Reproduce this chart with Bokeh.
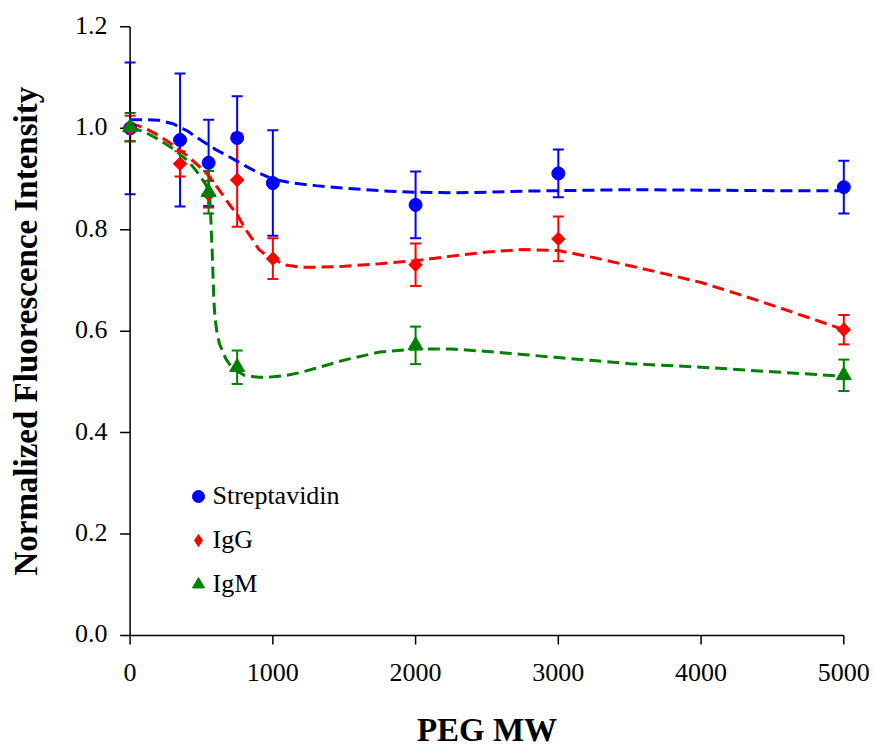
import numpy as np
from bokeh.plotting import figure
from bokeh.core.properties import value
from bokeh.models import (ColumnDataSource, Whisker, TeeHead, Legend, LegendItem,
                          Range1d, Label)
from bokeh.embed import file_html
from bokeh.resources import INLINE

# ---------------- data ----------------
peg_mw = [0, 350, 550, 750, 1000, 2000, 3000, 5000]
strep_mean = [1.000, 0.977, 0.932, 0.981, 0.892, 0.849, 0.911, 0.884]
strep_err = [0.130, 0.131, 0.085, 0.082, 0.104, 0.066, 0.047, 0.052]

igg_mean = [1.000, 0.930, 0.870, 0.898, 0.743, 0.731, 0.782, 0.603]
igg_err = [0.025, 0.025, 0.026, 0.092, 0.040, 0.042, 0.044, 0.029]

igm_mw = [0, 550, 750, 2000, 5000]
igm_mean = [1.002, 0.874, 0.529, 0.572, 0.513]
igm_err = [0.028, 0.042, 0.033, 0.037, 0.031]

# dashed fitted curves
strep_fit_x = [0, 100, 200, 300, 400, 500, 600, 700, 800, 900, 1000, 1100, 1200,
               1300, 1500, 1750, 2000, 2250, 2500, 2750, 3000, 3500, 4000, 4500, 5000]
strep_fit_y = [1.017, 1.017, 1.016, 1.009, 0.995, 0.976, 0.958, 0.943, 0.927, 0.912,
               0.900, 0.894, 0.890, 0.887, 0.882, 0.877, 0.874, 0.873, 0.874, 0.876,
               0.877, 0.879, 0.878, 0.877, 0.877]

igg_fit_x = [0, 100, 200, 300, 400, 500, 550, 600, 650, 700, 750, 800, 850, 900, 950,
             1000, 1100, 1200, 1300, 1500, 1750, 2000, 2250, 2500, 2750, 3000, 3250,
             3500, 3750, 4000, 4250, 4500, 4750, 5000]
igg_fit_y = [1.010, 1.001, 0.986, 0.967, 0.946, 0.921, 0.907, 0.888, 0.868, 0.848,
             0.830, 0.805, 0.784, 0.762, 0.750, 0.742, 0.730, 0.726, 0.726, 0.728,
             0.733, 0.739, 0.748, 0.756, 0.761, 0.759, 0.745, 0.729, 0.713, 0.696,
             0.674, 0.651, 0.627, 0.603]

igm_fit_x = [0, 100, 200, 300, 400, 450, 500, 530, 550, 560, 565, 570, 575, 580, 587,
             595, 610, 625, 645, 670, 703, 750, 800, 900, 1000, 1100, 1200, 1300, 1500,
             1750, 2000, 2250, 2500, 2750, 3000, 3250, 3500, 4000, 4500, 5000]
igm_fit_y = [1.002, 0.993, 0.978, 0.960, 0.937, 0.921, 0.902, 0.889, 0.877, 0.855,
             0.825, 0.790, 0.759, 0.715, 0.660, 0.625, 0.595, 0.576, 0.562, 0.546,
             0.532, 0.521, 0.513, 0.509, 0.510, 0.513, 0.519, 0.527, 0.543, 0.559,
             0.565, 0.565, 0.560, 0.554, 0.548, 0.542, 0.536, 0.529, 0.520, 0.511]

series_names = ["Streptavidin", "IgG", "IgM"]
series_colors = ["#0000FF", "#FF0000", "#008000"]

x_ticks = [0, 1000, 2000, 3000, 4000, 5000]
x_tick_labels = ["0", "1000", "2000", "3000", "4000", "5000"]
y_ticks = [0.0, 0.2, 0.4, 0.6, 0.8, 1.0, 1.2]
y_tick_labels = ["0.0", "0.2", "0.4", "0.6", "0.8", "1.0", "1.2"]

x_title = "PEG MW"
y_title = "Normalized Fluorescence Intensity"

FONT = "Liberation Serif"
W, H = 875, 748

# ---------------- figure ----------------
# The plotting frame covers the whole canvas so nothing (end markers, error
# bars, axis texts) is clipped; the axes are drawn at x = 0 and y = 0.
p = figure(width=W, height=H,
           x_range=Range1d(-908, 5222), y_range=Range1d(-0.2228, 1.2520),
           output_backend="svg", toolbar_location=None,
           x_axis_location=None, y_axis_location=None,
           min_border=0, min_border_left=0, min_border_right=0,
           min_border_top=0, min_border_bottom=0,
           outline_line_color=None, background_fill_color="white",
           border_fill_color="white")
p.xgrid.visible = False
p.ygrid.visible = False

# ---------------- axes ----------------
x0, x1 = x_ticks[0], x_ticks[-1]
y0, y1 = y_ticks[0], y_ticks[-1]
p.segment(x0=[x0, x0], y0=[y0, y0], x1=[x1, x0], y1=[y0, y1],
          line_color="black", line_width=1.5)
p.ray(x=x_ticks, y=[y0] * len(x_ticks), length=9, length_units="screen",
      angle=-np.pi / 2, line_color="black", line_width=1.5)
p.ray(x=[x0] * len(y_ticks), y=y_ticks, length=10, length_units="screen",
      angle=np.pi, line_color="black", line_width=1.5)
p.text(x=x_ticks, y=[y0] * len(x_ticks), text=x_tick_labels,
       text_align="center", text_baseline="middle", y_offset=37,
       text_font=value(FONT), text_font_size="26px", text_color="black")
p.text(x=[x0] * len(y_ticks), y=y_ticks, text=y_tick_labels,
       text_align="right", text_baseline="middle", x_offset=-22.5, y_offset=-1.5,
       text_font=value(FONT), text_font_size="26px", text_color="black")

# axis titles (canvas pixels)
p.add_layout(Label(x=25.6, y=330.7, x_units="canvas", y_units="canvas",
                   text=y_title, angle=np.pi / 2, text_align="center",
                   text_baseline="middle", text_font=FONT,
                   text_font_size="33px", text_font_style="bold",
                   text_color="black"))
p.add_layout(Label(x=486.5, y=729.7, x_units="canvas", y_units="canvas",
                   text=x_title, text_align="center",
                   text_baseline="middle", text_font=FONT,
                   text_font_size="33px", text_font_style="bold",
                   text_color="black"))

# ---------------- curves ----------------
fits = [(strep_fit_x, strep_fit_y), (igg_fit_x, igg_fit_y), (igm_fit_x, igm_fit_y)]
for (fx, fy), c in zip(fits, series_colors):
    p.line(fx, fy, line_color=c, line_width=3, line_dash="12 6")

# ---------------- error bars + markers ----------------
data = [(peg_mw, strep_mean, strep_err),
        (peg_mw, igg_mean, igg_err),
        (igm_mw, igm_mean, igm_err)]
marker_specs = [dict(marker="circle", size=13, angle=0.0),
                dict(marker="square", size=9.5, angle=np.pi / 4),
                dict(marker="triangle", size=15, angle=0.0)]
legend_markers = ["circle", "diamond", "triangle"]

legend_renderers = []
for (xs, ys, es), c, ms, lm in zip(data, series_colors, marker_specs, legend_markers):
    src = ColumnDataSource(dict(
        x=xs, y=ys,
        upper=[y + e for y, e in zip(ys, es)],
        lower=[y - e for y, e in zip(ys, es)],
    ))
    w = Whisker(source=src, base="x", upper="upper", lower="lower",
                dimension="height", line_color=c, line_width=2,
                upper_head=TeeHead(size=11, line_color=c, line_width=2),
                lower_head=TeeHead(size=11, line_color=c, line_width=2))
    p.add_layout(w)
    lr = None
    if lm != ms["marker"]:
        # tiny swatch renderer (hidden under the real markers) used by the legend
        lr = p.scatter("x", "y", source=src, marker=lm, size=1,
                       fill_color=c, line_color=c)
    r = p.scatter("x", "y", source=src, marker=ms["marker"], size=ms["size"],
                  angle=ms["angle"], fill_color=c, line_color=c, line_width=1)
    legend_renderers.append(lr if lr is not None else r)

# ---------------- legend ----------------
items = [LegendItem(label=n, renderers=[r]) for n, r in zip(series_names, legend_renderers)]
legend = Legend(items=items, location=(182.5, 149), orientation="vertical",
                glyph_width=30, glyph_height=30, label_height=30,
                spacing=14, padding=0, margin=0, label_standoff=0,
                border_line_color=None, background_fill_alpha=0,
                label_text_font=FONT, label_text_font_size="26px",
                label_text_color="black")
p.add_layout(legend)

open("out.html", "w").write(file_html(p, INLINE))
